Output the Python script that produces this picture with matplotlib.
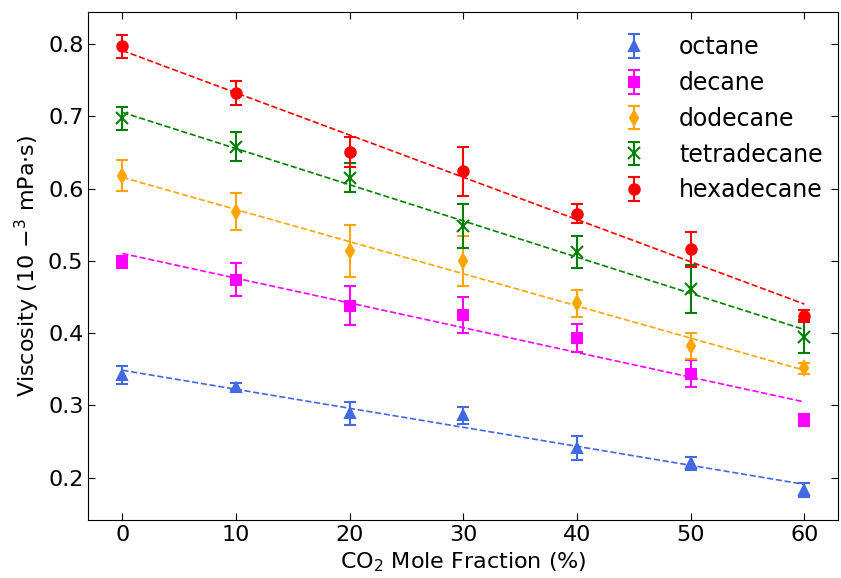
import numpy as np
import matplotlib
matplotlib.use("Agg")
import matplotlib.pyplot as plt

x = [0, 10, 20, 30, 40, 50, 60]

names = ["octane", "decane", "dodecane", "tetradecane", "hexadecane"]
colors = ["royalblue", "magenta", "orange", "green", "red"]
markers = ["^", "s", "d", "x", "o"]

octane = [0.342, 0.326, 0.289, 0.286, 0.241, 0.220, 0.183]
octane_err = [0.013, 0.005, 0.016, 0.012, 0.017, 0.009, 0.010]
decane = [0.498, 0.474, 0.438, 0.425, 0.393, 0.344, 0.280]
decane_err = [0.008, 0.023, 0.027, 0.025, 0.019, 0.019, 0.008]
dodecane = [0.618, 0.568, 0.514, 0.500, 0.441, 0.382, 0.351]
dodecane_err = [0.022, 0.026, 0.036, 0.035, 0.019, 0.018, 0.007]
tetradecane = [0.697, 0.658, 0.615, 0.548, 0.512, 0.461, 0.395]
tetradecane_err = [0.016, 0.020, 0.020, 0.030, 0.022, 0.033, 0.023]
hexadecane = [0.797, 0.732, 0.651, 0.624, 0.565, 0.516, 0.424]
hexadecane_err = [0.016, 0.017, 0.021, 0.034, 0.013, 0.024, 0.008]

series = [octane, decane, dodecane, tetradecane, hexadecane]
errors = [octane_err, decane_err, dodecane_err, tetradecane_err, hexadecane_err]

fig, ax = plt.subplots(figsize=(8.41, 5.78), dpi=100)

xa = np.array(x, dtype=float)
for name, c, m, y, e in zip(names, colors, markers, series, errors):
    ms = 7.5 if m != "x" else 9
    ax.errorbar(x, y, yerr=e, fmt=m, color=c, ecolor=c, capsize=4,
                elinewidth=1.5, capthick=1.5, markersize=ms,
                markeredgewidth=1.5, label=name)
    k, b = np.polyfit(xa, np.array(y), 1)
    ax.plot(xa, k * xa + b, linestyle="--", color=c, linewidth=1.2)

ax.set_xlabel("CO$_2$ Mole Fraction (%)", fontsize=16)
ax.set_ylabel(r"Viscosity (10 $-^{3}$ mPa$\cdot$s)", fontsize=16)
ax.set_xticks([0, 10, 20, 30, 40, 50, 60])
ax.set_yticks([0.2, 0.3, 0.4, 0.5, 0.6, 0.7, 0.8])
ax.tick_params(direction="in", labelsize=16, top=True, right=True, length=5)
ax.legend(frameon=False, fontsize=17, loc="upper right", handlelength=1.0,
          handletextpad=1.4, labelspacing=0.5, borderaxespad=0.6,
          bbox_to_anchor=(1.0107, 1.0))

fig.subplots_adjust(left=0.105, right=0.997, top=0.98, bottom=0.1)
fig.savefig("out.png", dpi=100)
